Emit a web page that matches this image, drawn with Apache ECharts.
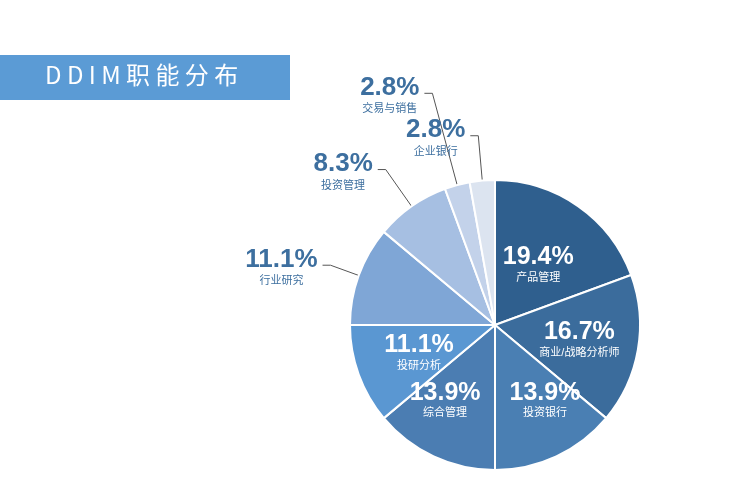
<!DOCTYPE html><html><head><meta charset="utf-8">
<script src="https://cdn.jsdelivr.net/npm/echarts@6/dist/echarts.min.js"></script>
<style>body{margin:0}#c{width:742px;height:493px}</style></head><body><div id="c"></div>
<script>
const names=['产品管理','商业/战略分析师','投资银行','综合管理','投研分析','行业研究','投资管理','交易与销售','企业银行'];
const values=[19.4,16.7,13.9,13.9,11.1,11.1,8.3,2.8,2.8];
const colors=['#2f5f8e','#3b6c9c','#4a7fb3','#4b7db2','#5a97d2','#7fa6d6','#a6bfe2','#c3d2ea','#dce4f0'];
const outside=[false,false,false,false,false,true,true,true,true];
const lineLen=[0,0,0,0,0,30,45,95,45];
const offsets=[[0,0],[10,0],[18,5],[-18,5],[-5,0]];
const ff='"Liberation Sans","Noto Sans CJK SC",sans-serif';
const data=names.map((n,i)=>({name:n,value:values[i],itemStyle:{color:colors[i]},
 labelLine:outside[i]?{length:lineLen[i],length2:8}:undefined,
 label:outside[i]?{show:true,position:'outside',formatter:'{p|{c}%}\n{n|{b}}',
  rich:{p:{fontSize:26,fontWeight:'bold',fontFamily:ff,color:'#3d6f9f',align:'center',lineHeight:32},n:{fontSize:11,fontFamily:ff,color:'#3d6f9f',align:'center'}}}
 :{show:true,position:'inside',offset:offsets[i],formatter:'{p|{c}%}\n{n|{b}}',rich:{p:{fontSize:25,fontWeight:'bold',fontFamily:ff,color:'#fff',align:'center',lineHeight:30},n:{fontSize:11,fontFamily:ff,color:'#fff',align:'center'}}}}));
const chart=echarts.init(document.getElementById('c'));
chart.setOption({
 graphic:[{type:'rect',shape:{x:0,y:55,width:290,height:45},style:{fill:'#5b9bd5'}},
  {type:'text',left:45,top:63,style:{text:'D D I M 职 能 分 布',fill:'#fff',font:'24px "Noto Sans CJK SC"'}}],
 series:[{type:'pie',center:[495,325],radius:[0,145],startAngle:90,clockwise:true,avoidLabelOverlap:false,
  labelLayout:{hideOverlap:false},minShowLabelAngle:0,
  itemStyle:{borderColor:'#fff',borderWidth:2},
  labelLine:{show:true,lineStyle:{color:'#555'}},
  data:data}]
});
</script></body></html>
